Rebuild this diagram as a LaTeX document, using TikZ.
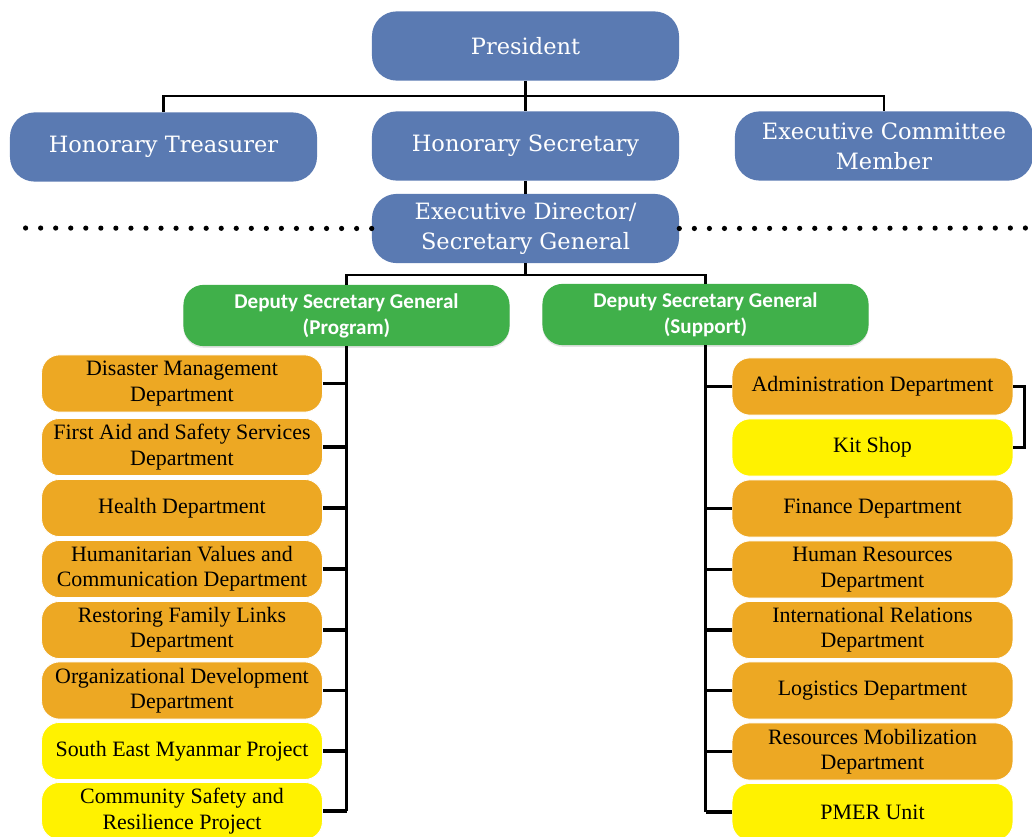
\documentclass[tikz,border=0pt]{standalone}
\usepackage{fontspec}
\usepackage{tikz}
\usetikzlibrary{positioning,calc,shadows}
\newfontfamily\blueserif{DejaVu Serif}
\newfontfamily\deptserif{Liberation Serif}
\newfontfamily\dsgsans{Carlito}
\definecolor{boardblue}{RGB}{90,122,178}
\definecolor{dsggreen}{RGB}{64,176,74}
\definecolor{deptorange}{RGB}{237,168,35}
\definecolor{projyellow}{RGB}{255,242,0}

\tikzset{
  boardbox/.style={fill=boardblue, text=white, rounded corners=0.62cm, align=center,
    minimum width=7.675cm, minimum height=1.73cm, inner sep=2pt,
    font=\blueserif\fontsize{16}{21.5}\selectfont},
  dsgbox/.style={fill=dsggreen, text=white, rounded corners=0.5cm, align=center,
    minimum width=8.15cm, minimum height=1.53cm, inner sep=2pt,
    drop shadow={shadow xshift=0pt, shadow yshift=-1.2pt, fill=black!18, opacity=0.6},
    font=\dsgsans\bfseries\fontsize{15}{18.5}\selectfont},
  deptbox/.style={fill=deptorange, draw=white, line width=0.6pt, rounded corners=0.45cm,
    align=center, minimum width=7.02cm, minimum height=1.43cm, inner sep=1pt,
    font=\deptserif\fontsize{15.6}{18}\selectfont},
  projbox/.style={deptbox, fill=projyellow},
  orgline/.style={line width=2pt},
  tickline/.style={line width=2.6pt},
  dotline/.style={line width=3.7pt, line cap=round, dash pattern=on 0pt off 10.7pt}
}

\begin{document}
\begin{tikzpicture}[x=0.025cm, y=-0.025cm]
  \useasboundingbox (0,0) rectangle (1032,836);
  \clip (0,0) rectangle (1032,836);

  % Board
  \node[boardbox] (pres) at (525.5,46) {President};
  \node[boardbox] (htreas) at (163.5,147) {Honorary Treasurer};
  \node[boardbox] (hsec) at (525.5,146) {Honorary Secretary};
  \node[boardbox, minimum width=7.45cm] (ecm) at (884,146) {Executive Committee\\Member};
  \node[boardbox] (ed) at (525.5,228.5) {Executive Director/\\Secretary General};

  \coordinate (bar1) at (525.5,96);
  \draw[orgline] (htreas.north) |- (bar1) -| (ecm.north);
  \draw[orgline] (pres.south) -- (hsec.north);
  \draw[orgline] (hsec.south) -- (ed.north);

  % Dotted divider
  \coordinate (dotL) at (12,228);
  \coordinate (dotR) at (1032,228);
  \draw[dotline] (ed.west) -- (dotL);
  \draw[dotline] (ed.east) -- (dotR);

  % Deputy secretaries general
  \node[dsgbox] (dsgprog) at (346.5,315.5) {Deputy Secretary General\\(Program)};
  \node[dsgbox] (dsgsupp) at (705.5,314.5) {Deputy Secretary General\\(Support)};

  \coordinate (bar2) at (525.5,275);
  \draw[orgline] (ed.south) -- (bar2);
  \draw[orgline] (dsgprog.north) |- (bar2) -| (dsgsupp.north);

  % Program departments
  \foreach \n/\ypos/\sty/\txt in {
      p1/383.5/deptbox/{Disaster Management\\Department},
      p2/447/deptbox/{First Aid and Safety Services\\Department},
      p3/508/deptbox/{Health Department},
      p4/569/deptbox/{Humanitarian Values and\\Communication Department},
      p5/630/deptbox/{Restoring Family Links\\Department},
      p6/690.5/deptbox/{Organizational Development\\Department},
      p7/751/projbox/{South East Myanmar Project},
      p8/811/projbox/{Community Safety and\\Resilience Project}}
    \node[\sty] (\n) at (182,\ypos) {\txt};

  \draw[orgline] (dsgprog.south) -- (dsgprog.south |- p8.east);
  \foreach \n in {p1,p2,p3,p4,p5,p6,p7,p8}
    \draw[tickline] (\n.east) -- (\n.east -| dsgprog.south);

  % Support departments
  \foreach \n/\ypos/\sty/\txt in {
      s1/386.5/deptbox/{Administration Department},
      s2/447.5/projbox/{Kit Shop},
      s3/508.5/deptbox/{Finance Department},
      s4/569.5/deptbox/{Human Resources\\Department},
      s5/630/deptbox/{International Relations\\Department},
      s6/690.5/deptbox/{Logistics Department},
      s7/751.5/deptbox/{Resources Mobilization\\Department},
      s8/812/projbox/{PMER Unit}}
    \node[\sty] (\n) at (872.5,\ypos) {\txt};

  \draw[orgline] (dsgsupp.south) -- (dsgsupp.south |- s8.west);
  \foreach \n in {s1,s3,s4,s5,s6,s7,s8}
    \draw[tickline] (\n.west) -- (\n.west -| dsgsupp.south);

  % Kit shop bracket
  \draw[orgline] (s1.east) -- ++(11,0) |- (s2.east);
\end{tikzpicture}
\end{document}
